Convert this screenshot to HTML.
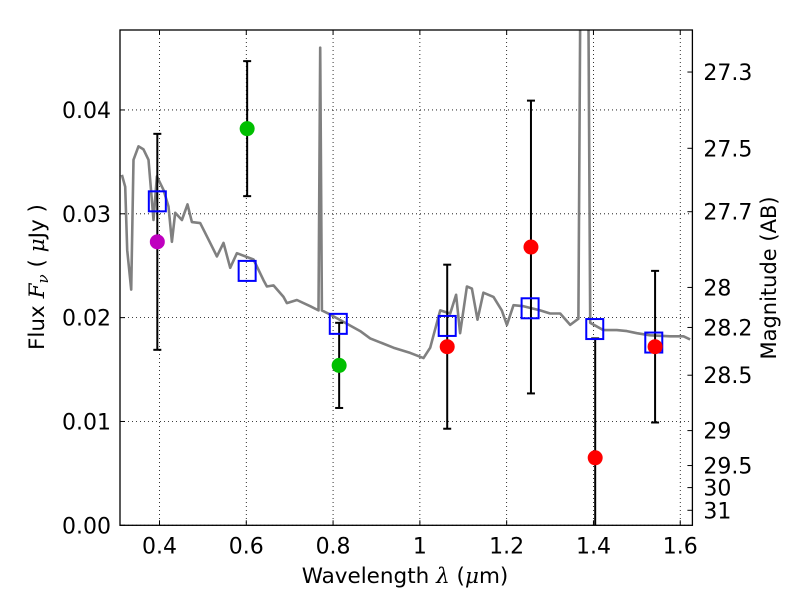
<!DOCTYPE html>
<html><head><meta charset="utf-8"><style>
html,body{margin:0;padding:0;background:#fff;}
svg{display:block;font-family:"DejaVu Sans","Liberation Sans",sans-serif;}
</style></head><body>
<svg id="chart" width="800" height="600" viewBox="0 0 800 600" xmlns="http://www.w3.org/2000/svg">
<rect x="0" y="0" width="800" height="600" fill="#fff"/>
<defs><clipPath id="clip"><rect x="120" y="30" width="572.4" height="495.3"/></clipPath></defs>
<g id="grid"></g>
<g id="plot" clip-path="url(#clip)"></g>
<g id="axes"></g>
<text x="405" y="583" font-size="21.5" text-anchor="middle">Wavelength  <tspan font-family="DejaVu Serif, serif" font-style="italic">λ</tspan> (<tspan font-family="DejaVu Serif, serif" font-style="italic">μ</tspan>m)</text>
<text transform="translate(44,277) rotate(-90)" font-size="21.5" text-anchor="middle">Flux  <tspan font-family="DejaVu Serif, serif" font-style="italic">F<tspan font-size="15" dy="4">ν</tspan></tspan><tspan dy="-4">  ( </tspan><tspan font-family="DejaVu Serif, serif" font-style="italic">μ</tspan>Jy )</text>
<text transform="translate(776,278) rotate(-90)" font-size="21" text-anchor="middle">Magnitude (AB)</text>
</svg>
<script>
const xTicks = [0.4, 0.6, 0.8, 1.0, 1.2, 1.4, 1.6];
const xTickLabels = ["0.4", "0.6", "0.8", "1", "1.2", "1.4", "1.6"];
const yTicks = [0.00, 0.01, 0.02, 0.03, 0.04];
const yTickLabels = ["0.00", "0.01", "0.02", "0.03", "0.04"];
const magTicks = [27.3, 27.5, 27.7, 28, 28.2, 28.5, 29, 29.5, 30, 31];
const specWl = [0.3134,0.321,0.3255,0.3348,0.340,0.3516,0.3631,0.3747,0.3862,0.394,0.4092,0.4207,0.4286,0.4362,0.4516,0.4645,0.4747,0.4938,0.5168,0.5323,0.5475,0.5629,0.5783,0.6166,0.6396,0.6475,0.6627,0.6857,0.6935,0.7166,0.7472,0.7664,0.7703,0.7742,0.7933,0.8624,0.8855,0.9392,0.9777,1.0083,1.0237,1.0468,1.0698,1.0836,1.0928,1.1083,1.1198,1.1327,1.1465,1.1696,1.1889,1.2005,1.2157,1.2387,1.2772,1.3002,1.3233,1.3463,1.3654,1.3725,1.3855,1.3924,1.4230,1.4539,1.4770,1.5000,1.5306,1.5767,1.6074,1.6228];
const specFlux = [0.03375,0.0326,0.0265,0.0227,0.0352,0.0365,0.0362,0.0352,0.0294,0.0336,0.0323,0.0307,0.0273,0.0301,0.0294,0.0309,0.0292,0.0291,0.0272,0.0259,0.0272,0.0248,0.0262,0.0256,0.0236,0.0230,0.0231,0.0220,0.0214,0.0217,0.0211,0.0207,0.0460,0.0207,0.0203,0.0187,0.0180,0.0171,0.0166,0.0161,0.0171,0.0207,0.0204,0.0222,0.0185,0.0230,0.0228,0.0198,0.0224,0.0220,0.0207,0.0193,0.0212,0.0211,0.0207,0.0204,0.0204,0.0193,0.0199,0.070,0.070,0.0195,0.0188,0.0188,0.0187,0.0185,0.0183,0.0182,0.0182,0.0179];
const modelWl = [0.395, 0.602, 0.812, 1.063, 1.254, 1.403, 1.539];
const modelFlux = [0.0312, 0.0245, 0.0194, 0.0192, 0.0209, 0.0189, 0.0176];
const obsWl = [0.395, 0.602, 0.814, 1.063, 1.256, 1.404, 1.542];
const obsFlux = [0.0273, 0.0382, 0.0154, 0.0172, 0.0268, 0.0065, 0.0172];
const obsErr = [0.0104, 0.0065, 0.0041, 0.0079, 0.0141, 0.0115, 0.0073];
const obsColor = ["#bf00bf", "#00bf00", "#00bf00", "#ff0000", "#ff0000", "#ff0000", "#ff0000"];

const X0=120, X1=692.4, Y0=525.3, Y1=30;
const xmin=0.309, xmax=1.628, ymin=0, ymax=0.0477;
const sx = v => X0 + (v - xmin) / (xmax - xmin) * (X1 - X0);
const sy = v => Y0 - (v - ymin) / (ymax - ymin) * (Y0 - Y1);
const magToFlux = m => Math.pow(10, (23.9 - m) / 2.5);
const NS = "http://www.w3.org/2000/svg";
function mk(tag, attrs, parent){ const e=document.createElementNS(NS,tag); for(const k in attrs) e.setAttribute(k,attrs[k]); parent.appendChild(e); return e; }
const grid=document.getElementById('grid'), plot=document.getElementById('plot'), axes=document.getElementById('axes');

xTicks.forEach((t,i)=>{
  const x=sx(t);
  const g=mk('line',{x1:x,x2:x,y1:Y1,y2:Y0,stroke:'#000','stroke-width':0.8,'stroke-dasharray':'1,3'},grid);
  
  
  mk('line',{x1:x,x2:x,y1:Y0,y2:Y0-5,stroke:'#000','stroke-width':1},axes);
  mk('line',{x1:x,x2:x,y1:Y1,y2:Y1+5,stroke:'#000','stroke-width':1},axes);
  const tx=mk('text',{x:x,y:Y0+28,'font-size':22,'text-anchor':'middle'},axes);
  tx.textContent=xTickLabels[i];
  
  
});
yTicks.forEach((t,i)=>{
  const y=sy(t);
  const g=mk('line',{x1:X0,x2:X1,y1:y,y2:y,stroke:'#000','stroke-width':0.8,'stroke-dasharray':'1,3'},grid);
  
  
  mk('line',{x1:X0,x2:X0+5,y1:y,y2:y,stroke:'#000','stroke-width':1},axes);
  const tx=mk('text',{x:X0-9,y:y+8,'font-size':22,'text-anchor':'end'},axes);
  tx.textContent=yTickLabels[i];
  
  
});
magTicks.forEach(m=>{
  const y=sy(magToFlux(m));
  mk('line',{x1:X1,x2:X1-5,y1:y,y2:y,stroke:'#000','stroke-width':1},axes);
  const tx=mk('text',{x:X1+11,y:y+8,'font-size':22,'text-anchor':'start'},axes);
  tx.textContent=String(m);
  
  
});

const pts=specWl.map((w,i)=>sx(w).toFixed(1)+','+sy(specFlux[i]).toFixed(1)).join(' ');
const sp=mk('polyline',{points:pts,fill:'none',stroke:'#808080','stroke-width':2.6,'stroke-linejoin':'round'},plot);



obsWl.forEach((w,i)=>{
  const x=sx(w), yt=sy(obsFlux[i]+obsErr[i]), yb=sy(obsFlux[i]-obsErr[i]);
  const e=mk('g',{},plot);
  
  
  mk('line',{x1:x,x2:x,y1:yt,y2:yb,stroke:'#000','stroke-width':2},e);
  mk('line',{x1:x-4,x2:x+4,y1:yt,y2:yt,stroke:'#000','stroke-width':2},e);
  mk('line',{x1:x-4,x2:x+4,y1:yb,y2:yb,stroke:'#000','stroke-width':2},e);
});
modelWl.forEach((w,i)=>{
  const r=mk('rect',{x:sx(w)-8.5,y:sy(modelFlux[i])-10,width:17,height:20,fill:'none',stroke:'#0000ff','stroke-width':2},plot);
  
  
});
obsWl.forEach((w,i)=>{
  const c=mk('circle',{cx:sx(w),cy:sy(obsFlux[i]),r:7.5,fill:obsColor[i]},plot);
  
  
});
const fr=mk('rect',{x:X0,y:Y1,width:X1-X0,height:Y0-Y1,fill:'none',stroke:'#000','stroke-width':1.3},axes);


</script>
</body></html>
